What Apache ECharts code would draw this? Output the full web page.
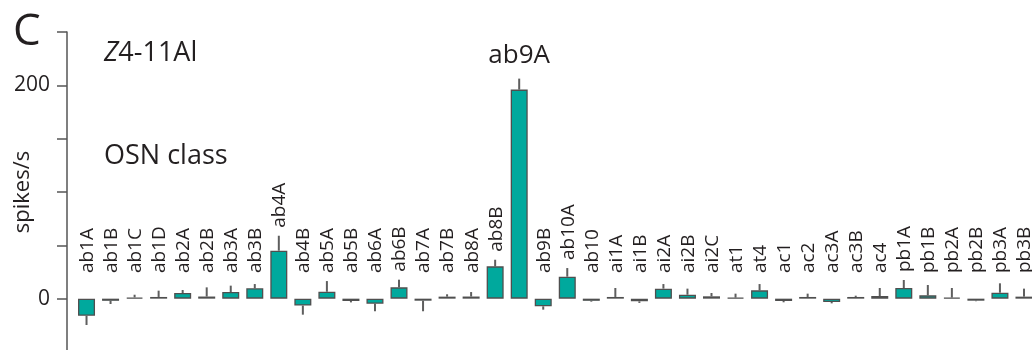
<!DOCTYPE html>
<html>
<head>
<meta charset="utf-8">
<script src="https://cdn.jsdelivr.net/npm/echarts@6/dist/echarts.min.js"></script>
<style>
  html, body { margin: 0; padding: 0; background: #fff; }
  #osn_chart { width: 1032px; height: 350px; }
</style>
</head>
<body>
<div id="osn_chart"></div>
<script>
  // OSN classes along the x axis
  var categories = ['ab1A', 'ab1B', 'ab1C', 'ab1D', 'ab2A', 'ab2B', 'ab3A', 'ab3B', 'ab4A', 'ab4B',
    'ab5A', 'ab5B', 'ab6A', 'ab6B', 'ab7A', 'ab7B', 'ab8A', 'ab8B', 'ab9A', 'ab9B',
    'ab10A', 'ab10', 'ai1A', 'ai1B', 'ai2A', 'ai2B', 'ai2C', 'at1', 'at4', 'ac1',
    'ac2', 'ac3A', 'ac3B', 'ac4', 'pb1A', 'pb1B', 'pb2A', 'pb2B', 'pb3A', 'pb3B'];

  // mean response (spikes/s)
  var responses = [-16, -2, 1.2, 1.6, 5.3, 2, 6.2, 9.7, 45, -6.5,
    6.5, -2.2, -4.7, 10.6, -1.9, 1.9, 2, 30.3, 196, -7.2,
    20.6, -2, 1.6, -2.5, 9.4, 3.7, 2.2, 1, 7.8, -2.2,
    1.6, -3.1, 1.6, 2.5, 10, 3.1, 1, -1.9, 5.6, 1.9];

  // one-sided error (SEM), drawn away from zero
  var errors = [8.7, 3, 2.5, 5.9, 2.8, 8.6, 6, 4, 14, 8.5,
    10, 1.3, 7.1, 7.2, 9.9, 2.2, 4.2, 6.2, 10.3, 3.1,
    8.1, 0.8, 8.4, 1.5, 4.3, 5.7, 3.1, 3.7, 5.9, 1.2,
    3.1, 1.3, 1.2, 7.5, 7.5, 9.7, 9, 0.5, 8.8, 7.5];

  var yTicks = [0, 200];          // labelled y ticks
  var bestClass = 'ab9A';         // class named in large type above its bar

  var FONT = '"Open Sans", "Noto Sans", sans-serif';
  var TEXT = '#231f20';

  var chart = echarts.init(document.getElementById('osn_chart'));

  var errData = categories.map(function (c, i) {
    return [i, responses[i], errors[i]];
  });

  function renderErr(params, api) {
    var i = api.value(0);
    var v = api.value(1);
    var e = api.value(2);
    var end = v >= 0 ? v + e : v - e;
    var p0 = api.coord([i, v]);
    var p1 = api.coord([i, end]);
    var children = [{
      type: 'line',
      shape: { x1: p0[0], y1: p0[1], x2: p1[0], y2: p1[1] },
      style: { stroke: '#5e5e5e', lineWidth: 2 }
    }];
    var top = api.coord([i, Math.max(end, v, 0)])[1];
    var name = categories[i];
    if (name === bestClass) {
      children.push({
        type: 'text',
        x: p0[0],
        y: top - 10,
        style: { text: name, font: '26px ' + FONT, fill: TEXT, align: 'center', verticalAlign: 'bottom' }
      });
    } else {
      var base = Math.min(api.coord([i, 16.5])[1], top);
      children.push({
        type: 'text',
        x: p0[0] + 1,
        y: base - 8,
        rotation: Math.PI / 2,
        style: { text: name, font: '19px ' + FONT, fill: TEXT, align: 'left', verticalAlign: 'middle' }
      });
    }
    return { type: 'group', children: children };
  }

  chart.setOption({
    animation: false,
    textStyle: { fontFamily: FONT },
    title: [
      { text: 'C', left: 8, top: 5, textStyle: { fontSize: 44, fontWeight: 'normal', color: TEXT, fontFamily: FONT } },
      {
        text: '{i|Z}4-11Al', left: 99, top: 35,
        textStyle: {
          fontSize: 27, fontWeight: 'normal', color: TEXT, fontFamily: FONT,
          rich: { i: { fontStyle: 'italic', fontSize: 27, color: TEXT, fontFamily: FONT } }
        }
      },
      { text: 'OSN class', left: 99, top: 138, textStyle: { fontSize: 27, fontWeight: 'normal', color: TEXT, fontFamily: FONT } }
    ],
    grid: { left: 74.5, right: -4, top: 32, bottom: -2, containLabel: false, outerBoundsMode: 'none' },
    xAxis: {
      type: 'category',
      data: categories,
      axisLine: { show: false },
      axisTick: { show: false },
      axisLabel: { show: false },
      splitLine: { show: false }
    },
    yAxis: {
      type: 'value',
      min: -50,
      max: 250,
      interval: 50,
      offset: 7.5,
      name: 'spikes/s',
      nameLocation: 'middle',
      nameRotate: 90,
      nameGap: 33,
      nameMoveOverlap: false,
      nameTextStyle: { fontSize: 22, color: TEXT, fontFamily: FONT },
      axisLine: { show: true, lineStyle: { color: '#555', width: 1.5 } },
      axisTick: { show: true, inside: false, length: 10, lineStyle: { color: '#555', width: 1.5 } },
      axisLabel: {
        margin: 17,
        fontSize: 21,
        color: TEXT,
        fontFamily: FONT,
        formatter: function (v) { return yTicks.indexOf(v) >= 0 ? String(v) : ''; }
      },
      splitLine: { show: false }
    },
    series: [
      {
        type: 'bar',
        data: responses,
        barWidth: 17,
        itemStyle: { color: '#00a99d', borderColor: '#4f4f4f', borderWidth: 1.3 },
        z: 3
      },
      {
        type: 'custom',
        data: errData,
        renderItem: renderErr,
        z: 2
      }
    ]
  });
</script>
</body>
</html>
